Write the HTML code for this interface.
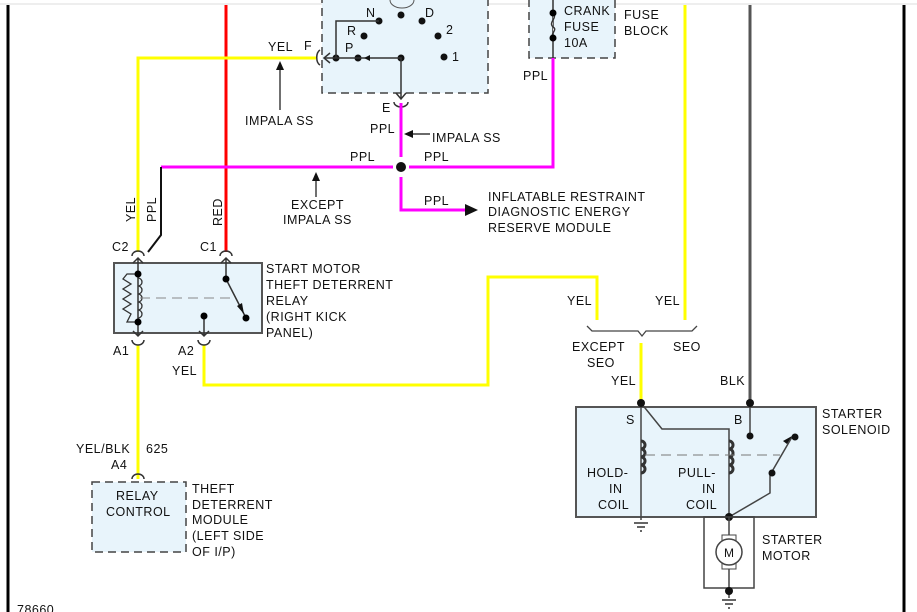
<!DOCTYPE html>
<html><head><meta charset="utf-8"><style>
html,body{margin:0;padding:0;background:#fff;}
svg{display:block;}
text{font-family:"Liberation Sans",sans-serif;font-size:12.5px;fill:#111;letter-spacing:0.5px;}
</style></head><body>
<svg width="917" height="612" viewBox="0 0 917 612" xmlns="http://www.w3.org/2000/svg">
<line x1="0" y1="4" x2="917" y2="4" stroke="#ddd" stroke-width="1"/>
<line x1="8" y1="5" x2="8" y2="612" stroke="#000" stroke-width="3"/>
<line x1="904" y1="5" x2="904" y2="612" stroke="#000" stroke-width="3"/>

<!-- transmission switch box -->
<rect x="322" y="-5" width="166" height="98" fill="#e8f4fb" stroke="#444" stroke-dasharray="8,5" stroke-width="1.5"/>
<path d="M390,0 A12,8 0 0 0 414,0" fill="none" stroke="#555"/>
<g fill="#111">
<circle cx="401" cy="15" r="3.5"/><circle cx="379" cy="21" r="3.5"/><circle cx="422" cy="21" r="3.5"/>
<circle cx="364" cy="36" r="3.5"/><circle cx="438" cy="36" r="3.5"/>
<circle cx="336" cy="58" r="3.5"/><circle cx="358" cy="58" r="3.5"/><circle cx="401" cy="58" r="3.5"/><circle cx="444" cy="57" r="3.5"/>
</g>
<path d="M379,21 H336 V58 M324,58 H401 V98" fill="none" stroke="#333" stroke-width="1.5"/>
<path d="M396,93 L401,99 L406,93 M330,53 L324,58 L330,63" fill="none" stroke="#333" stroke-width="1.5"/>
<path d="M370,55 L364,58 L370,61Z" fill="#111"/>
<text x="366" y="17">N</text><text x="425" y="17">D</text><text x="347" y="35">R</text><text x="446" y="34">2</text><text x="345" y="52">P</text><text x="452" y="61">1</text>
<text x="304" y="50">F</text><text x="268" y="51">YEL</text><text x="382" y="112">E</text>
<path d="M320,50 A5,8 0 0 0 320,65" fill="none" stroke="#333" stroke-width="1.5"/>
<path d="M394,102 A7,5 0 0 0 408,102" fill="none" stroke="#333" stroke-width="1.5"/>

<!-- fuse block -->
<rect x="529" y="-5" width="86" height="63" fill="#e8f4fb" stroke="#444" stroke-dasharray="8,5" stroke-width="1.5"/>
<line x1="553" y1="0" x2="553" y2="58" stroke="#333" stroke-width="1.5"/>
<path d="M553,13 C558,18 548,22 553,27 C558,30 550,33 553,38" fill="#fff" stroke="#333" stroke-width="1.5"/>
<circle cx="553" cy="13" r="3.5"/><circle cx="553" cy="38" r="3.5"/>
<text x="564" y="15">CRANK</text><text x="564" y="31">FUSE</text><text x="564" y="47">10A</text>
<text x="624" y="19">FUSE</text><text x="624" y="35">BLOCK</text>
<text x="523" y="80">PPL</text>

<!-- wires -->
<line x1="226" y1="5" x2="226" y2="252" stroke="#f00" stroke-width="3"/>
<path d="M316,58 H138 V252" fill="none" stroke="#ff0" stroke-width="3"/>
<path d="M161,167 H393 M409,167 H553 V58" fill="none" stroke="#f0f" stroke-width="3"/>
<path d="M401,103 V157 M401,177 V210 H465" fill="none" stroke="#f0f" stroke-width="3"/>
<path d="M161,167 V235 L148,252" fill="none" stroke="#111" stroke-width="2"/>
<circle cx="401" cy="167" r="5" fill="#111"/>
<path d="M465,204 L478,210 L465,216Z" fill="#111"/>
<line x1="685" y1="5" x2="685" y2="320" stroke="#ff0" stroke-width="3"/>
<path d="M204,345 V385 H488 V277 H597 V320" fill="none" stroke="#ff0" stroke-width="3"/>
<line x1="138" y1="345" x2="138" y2="479" stroke="#ff0" stroke-width="3"/>
<line x1="641" y1="343" x2="641" y2="403" stroke="#ff0" stroke-width="3"/>
<line x1="750" y1="5" x2="750" y2="403" stroke="#555" stroke-width="3"/>

<!-- labels middle -->
<path d="M280,110 V63" stroke="#111" stroke-width="1.2"/><path d="M276,70 L280,61 L284,70Z" fill="#111"/>
<text x="245" y="125">IMPALA SS</text>
<text x="370" y="133">PPL</text>
<path d="M430,134 H407" stroke="#111" stroke-width="1.2"/><path d="M413,130 L404,134 L413,138Z" fill="#111"/>
<text x="432" y="142">IMPALA SS</text>
<text x="350" y="161">PPL</text><text x="424" y="161">PPL</text>
<path d="M316,197 V174" stroke="#111" stroke-width="1.2"/><path d="M312,181 L316,172 L320,181Z" fill="#111"/>
<text x="291" y="209">EXCEPT</text><text x="283" y="224">IMPALA SS</text>
<text x="424" y="205">PPL</text>
<text x="488" y="201">INFLATABLE RESTRAINT</text><text x="488" y="216">DIAGNOSTIC ENERGY</text><text x="488" y="232">RESERVE MODULE</text>
<text transform="translate(135,222) rotate(-90)">YEL</text>
<text transform="translate(156,222) rotate(-90)">PPL</text>
<text transform="translate(222,226) rotate(-90)">RED</text>

<!-- relay -->
<rect x="114" y="263" width="148" height="70" fill="#e8f4fb" stroke="#555" stroke-width="2"/>
<text x="112" y="251">C2</text><text x="200" y="251">C1</text>
<path d="M132,256 A6,5 0 0 1 144,256 M220,256 A6,5 0 0 1 232,256 M132,340 A6,5 0 0 0 144,340 M198,340 A6,5 0 0 0 210,340" fill="none" stroke="#333" stroke-width="1.5"/>
<path d="M138,258 V336 M133,263 L138,258 L143,263 M133,331 L138,336 L143,331" fill="none" stroke="#333" stroke-width="1.5"/>
<path d="M138,274 H127 L123,279 L131,284 L123,289 L131,294 L123,299 L131,304 L123,309 L131,314 L127,322 H138" fill="none" stroke="#333" stroke-width="1.3"/>
<path d="M138,278 a4,4 0 0 1 0,8 a4,4 0 0 1 0,8 a4,4 0 0 1 0,8 a4,4 0 0 1 0,8 a4,4 0 0 1 0,8" fill="none" stroke="#333" stroke-width="1.3"/>
<circle cx="138" cy="274" r="3.5"/><circle cx="138" cy="322" r="3.5"/>
<line x1="140" y1="298" x2="236" y2="298" stroke="#888" stroke-dasharray="10,6"/>
<path d="M226,258 V279 M221,263 L226,258 L231,263 M226,279 L245,316" fill="none" stroke="#333" stroke-width="1.5"/>
<circle cx="226" cy="279" r="3.5"/><circle cx="246" cy="318" r="3.5"/>
<path d="M237,306 L244,314 L242,303Z" fill="#111"/>
<path d="M204,316 V336 M199,331 L204,336 L209,331" fill="none" stroke="#333" stroke-width="1.5"/><circle cx="204" cy="316" r="3.5"/>
<text x="266" y="273">START MOTOR</text><text x="266" y="289">THEFT DETERRENT</text><text x="266" y="305">RELAY</text><text x="266" y="321">(RIGHT KICK</text><text x="266" y="337">PANEL)</text>
<text x="113" y="355">A1</text><text x="178" y="355">A2</text><text x="172" y="375">YEL</text>

<!-- theft module -->
<text x="76" y="453">YEL/BLK</text><text x="146" y="453">625</text><text x="111" y="469">A4</text>
<path d="M132,479 A6,5 0 0 1 144,479" fill="none" stroke="#333" stroke-width="1.5"/>
<rect x="92" y="482" width="94" height="70" fill="#e8f4fb" stroke="#444" stroke-dasharray="8,5" stroke-width="1.5"/>
<text x="116" y="500">RELAY</text><text x="106" y="516">CONTROL</text>
<text x="192" y="493">THEFT</text><text x="192" y="509">DETERRENT</text><text x="192" y="524">MODULE</text><text x="192" y="540">(LEFT SIDE</text><text x="192" y="556">OF I/P)</text>
<text x="17" y="614">78660</text>

<!-- SEO bracket -->
<text x="567" y="305">YEL</text><text x="655" y="305">YEL</text>
<path d="M587,326 L592,331 H638 L642,336 L646,331 H692 L697,326" fill="none" stroke="#444" stroke-width="1.3"/>
<text x="572" y="351">EXCEPT</text><text x="587" y="367">SEO</text><text x="673" y="351">SEO</text>
<text x="611" y="385">YEL</text><text x="720" y="385">BLK</text>

<!-- solenoid -->
<rect x="576" y="407" width="240" height="110" fill="#e8f4fb" stroke="#555" stroke-width="2"/>
<text x="626" y="424">S</text><text x="734" y="424">B</text>
<text x="822" y="418">STARTER</text><text x="822" y="434">SOLENOID</text>
<path d="M641,403 V520 M641,403 L662,429 H729 V517 L770,493 V475 L792,437 M750,403 V436" fill="none" stroke="#444" stroke-width="1.5"/>
<path d="M641,441 a4,4 0 0 1 0,8 a4,4 0 0 1 0,8 a4,4 0 0 1 0,8 a4,4 0 0 1 0,8 M729,441 a4,4 0 0 1 0,8 a4,4 0 0 1 0,8 a4,4 0 0 1 0,8 a4,4 0 0 1 0,8" fill="none" stroke="#333" stroke-width="3"/>
<line x1="645" y1="455" x2="780" y2="455" stroke="#777" stroke-dasharray="10,6"/>
<path d="M787,444 L792,436 L783,441Z" fill="#111"/>
<g fill="#111"><circle cx="641" cy="403" r="4"/><circle cx="750" cy="403" r="4"/><circle cx="750" cy="436" r="3.5"/><circle cx="795" cy="437" r="3.5"/><circle cx="772" cy="473" r="3.5"/><circle cx="729" cy="517" r="4"/></g>
<text x="587" y="477">HOLD-</text><text x="609" y="493">IN</text><text x="598" y="509">COIL</text>
<text x="678" y="477">PULL-</text><text x="702" y="493">IN</text><text x="686" y="509">COIL</text>
<path d="M634,523 H648 M637,527 H645 M640,531 H642" stroke="#333" stroke-width="1.5"/>
<rect x="704" y="517" width="50" height="71" fill="none" stroke="#444" stroke-width="1.5"/>
<line x1="729" y1="517" x2="729" y2="598" stroke="#444" stroke-width="1.5"/>
<rect x="722" y="535" width="14" height="34" fill="#fff" stroke="#444"/>
<circle cx="729" cy="552" r="13" fill="#fff" stroke="#444" stroke-width="1.5"/>
<text x="724" y="557" style="font-size:12px">M</text>
<circle cx="729" cy="591" r="4" fill="#111"/>
<path d="M722,600 H736 M725,604 H733 M728,608 H730" stroke="#333" stroke-width="1.5"/>
<text x="762" y="544">STARTER</text><text x="762" y="560">MOTOR</text>
</svg>
</body></html>
